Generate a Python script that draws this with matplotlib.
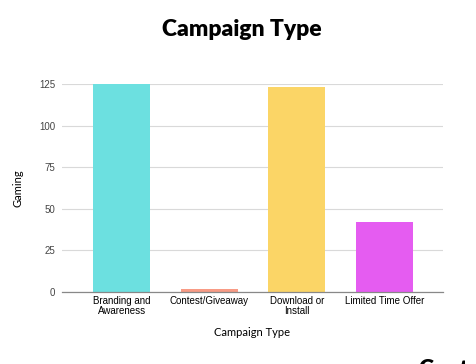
import matplotlib.pyplot as plt

categories = ["Branding and\nAwareness", "Contest/Giveaway", "Download or\nInstall", "Limited Time Offer"]
values = [125, 2, 123, 42]
colors = ["#6CE0E0", "#F89B85", "#FBD566", "#E55CF1"]
yticks = [0, 25, 50, 75, 100, 125]

fig = plt.figure(figsize=(4.76, 3.64), dpi=100)
ax = fig.add_axes([62 / 476, 1 - 292 / 364, (443 - 62) / 476, (292 - 84) / 364])

ax.bar(range(len(categories)), values, width=0.65, color=colors, zorder=3)
ax.set_xlim(-0.68, 3.67)
ax.set_ylim(0, 125)
ax.set_yticks(yticks)
ax.set_xticks(range(len(categories)))
ax.set_xticklabels(categories, fontsize=7, family="Liberation Sans", linespacing=0.95)
ax.set_yticklabels([str(v) for v in yticks], fontsize=7, family="Liberation Sans", color="#444444")
ax.tick_params(axis="both", length=0, pad=5)
ax.tick_params(axis="x", pad=3)
ax.grid(axis="y", color="#D9D9D9", linewidth=0.8, zorder=0)
for s in ["top", "right", "left"]:
    ax.spines[s].set_visible(False)
ax.spines["bottom"].set_color("#888888")
ax.spines["bottom"].set_linewidth(0.9)
ax.spines["bottom"].set_zorder(4)

ax.set_xlabel("Campaign Type", fontsize=8, family="Lato", labelpad=8)
ax.set_ylabel("Gaming", fontsize=8, family="Lato", labelpad=11)

fig.text(242 / 476, 1 - 30 / 364, "Campaign Type", ha="center", va="center",
         fontsize=16.5, fontweight="heavy", family="Lato")
# title of the next chart, cut off by the bottom edge
fig.text(418 / 476, 1 - 370 / 364, "Content", ha="left", va="center",
         fontsize=16.5, fontweight="heavy", family="Lato")

fig.savefig("out.png", dpi=100)
